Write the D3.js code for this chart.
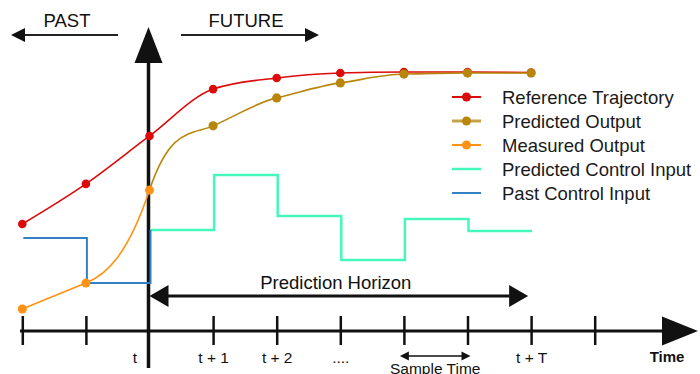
<!DOCTYPE html>
<html><head><meta charset="utf-8">
<script src="https://cdn.jsdelivr.net/npm/d3@7"></script>
<style>
html,body{margin:0;padding:0;background:#fff;}
svg{display:block;font-family:"Liberation Sans",Arial,sans-serif;}
</style></head>
<body><svg id="chart" width="700" height="374"></svg>
<script>
// ---------- data ----------
const timeSteps = [-2, -1, 0, 1, 2, 3, 4, 5, 6, 7];
const tickLabels = ["", "", "t", "t + 1", "t + 2", "....", "", "", "t + T", ""];
const refTimes = [-2, -1, 0, 1, 2, 3, 4, 5, 6];
const refValues = [0.413, 0.568, 0.753, 0.934, 0.977, 0.996, 1.0, 1.0, 0.998];
const measTimes = [-2, -1, 0];
const measValues = [0.085, 0.185, 0.544];
const predTimes = [0, 1, 2, 3, 4, 5, 6];
const predValues = [0.544, 0.792, 0.900, 0.958, 0.992, 0.996, 0.996];
const pastCtrlTimes = [-2, -1, 0];
const pastCtrlValues = [0.359, 0.185, 0.390];
const predCtrlTimes = [0, 1, 2, 3, 4, 5, 6];
const predCtrlValues = [0.390, 0.602, 0.444, 0.274, 0.432, 0.386, 0.386];
const legendLabels = ["Reference Trajectory", "Predicted Output", "Measured Output", "Predicted Control Input", "Past Control Input"];
const horizonStart = 0, horizonEnd = 6;
const sampleStart = 4, sampleEnd = 5;

// ---------- styles ----------
const C = {ref:"#dc0a0a", pred:"#b8860b", meas:"#ff9214", pctrl:"#45f7bb", past:"#3380c4", ink:"#111"};
const FONT = 18.5;

const svg = d3.select("#chart");
const x = d3.scaleLinear().domain([-2, 7]).range([22.3, 594.7]);
const y = d3.scaleLinear().domain([0, 1]).range([331, 72]);
const axisY = y(0);

// ---------- time axis ----------
const axisG = svg.append("g").attr("transform", `translate(0,${axisY})`)
  .call(d3.axisBottom(x).tickValues(timeSteps).tickSize(0).tickFormat((d,i)=>tickLabels[i]));
axisG.select(".domain").remove();
axisG.selectAll(".tick text").attr("fill", C.ink).attr("font-size", 15.5)
  .attr("font-family", '"Liberation Sans",Arial,sans-serif')
  .attr("y", 32).attr("dy", 0)
  .attr("dx", d => d === 0 ? -15 : 0);
axisG.selectAll(".tick").append("line")
  .attr("y1", -15).attr("y2", 14).attr("stroke", C.ink).attr("stroke-width", 2.5)
  .filter(d => d === 0).remove();

svg.append("line").attr("x1", 20).attr("x2", 666).attr("y1", axisY).attr("y2", axisY)
  .attr("stroke", C.ink).attr("stroke-width", 3);
svg.append("path").attr("d", `M698,${axisY} L662,${axisY-14.5} L662,${axisY+14.5} Z`).attr("fill", C.ink);
svg.append("text").attr("x", 667).attr("y", 362).attr("text-anchor", "middle")
  .attr("font-size", 15).attr("font-weight", "bold").attr("fill", C.ink).text("Time");

// ---------- vertical axis ----------
const vx = x(0) - 1;
svg.append("line").attr("x1", vx).attr("x2", vx).attr("y1", 368).attr("y2", 60)
  .attr("stroke", C.ink).attr("stroke-width", 3.5);
svg.append("path").attr("d", `M${vx},27 L${vx-14},63 L${vx+14},63 Z`).attr("fill", C.ink);

// ---------- PAST / FUTURE ----------
svg.append("line").attr("x1", 22).attr("x2", 118).attr("y1", 35).attr("y2", 35).attr("stroke", "#222").attr("stroke-width", 2);
svg.append("path").attr("d", "M11,35 L25,28 L25,42 Z").attr("fill", C.ink);
svg.append("line").attr("x1", 181).attr("x2", 308).attr("y1", 35).attr("y2", 35).attr("stroke", "#222").attr("stroke-width", 2);
svg.append("path").attr("d", "M319,35 L305,28 L305,42 Z").attr("fill", C.ink);
svg.append("text").attr("x", 67).attr("y", 27).attr("text-anchor", "middle").attr("font-size", FONT).attr("fill", C.ink).text("PAST");
svg.append("text").attr("x", 246).attr("y", 27).attr("text-anchor", "middle").attr("font-size", FONT).attr("fill", C.ink).text("FUTURE");

// ---------- prediction horizon ----------
const hy = 296, hx0 = x(horizonStart), hx1 = x(horizonEnd) - 3;
svg.append("line").attr("x1", hx0 + 10).attr("x2", hx1 - 10).attr("y1", hy).attr("y2", hy).attr("stroke", C.ink).attr("stroke-width", 3);
svg.append("path").attr("d", `M${hx0},${hy} L${hx0+19},${hy-11} L${hx0+19},${hy+11} Z`).attr("fill", C.ink);
svg.append("path").attr("d", `M${hx1},${hy} L${hx1-19},${hy-11} L${hx1-19},${hy+11} Z`).attr("fill", C.ink);
svg.append("text").attr("x", (hx0 + hx1) / 2 - 3).attr("y", 289).attr("text-anchor", "middle").attr("font-size", FONT).attr("fill", C.ink).text("Prediction Horizon");

// ---------- sample time ----------
const sy = 356, sx0 = x(sampleStart) - 4, sx1 = x(sampleEnd) + 3;
svg.append("line").attr("x1", sx0 + 5).attr("x2", sx1 - 5).attr("y1", sy).attr("y2", sy).attr("stroke", C.ink).attr("stroke-width", 1.5);
svg.append("path").attr("d", `M${sx0},${sy} L${sx0+9},${sy-4.5} L${sx0+9},${sy+4.5} Z`).attr("fill", C.ink);
svg.append("path").attr("d", `M${sx1},${sy} L${sx1-9},${sy-4.5} L${sx1-9},${sy+4.5} Z`).attr("fill", C.ink);
svg.append("text").attr("x", (sx0 + sx1) / 2).attr("y", 373.5).attr("text-anchor", "middle").attr("font-size", 15.5).attr("fill", C.ink).text("Sample Time");

// ---------- curve helper (Hermite with shallow-side tangents, steep junction at t) ----------
const junctionSlope = -3;
function hermitePath(pts, mStart, mEnd) {
  const n = pts.length, s = [], m = [];
  for (let i = 0; i < n - 1; i++) s.push((pts[i+1][1] - pts[i][1]) / (pts[i+1][0] - pts[i][0]));
  for (let i = 0; i < n; i++) {
    if (i === 0) m.push(mStart != null ? mStart : s[0]);
    else if (i === n - 1) m.push(mEnd != null ? mEnd : s[n-2]);
    else m.push(Math.sign(s[i-1]) === Math.sign(s[i]) ? Math.sign(s[i]) * Math.min(Math.abs(s[i-1]), Math.abs(s[i])) : 0);
  }
  const p = d3.path();
  p.moveTo(pts[0][0], pts[0][1]);
  for (let i = 0; i < n - 1; i++) {
    const h = (pts[i+1][0] - pts[i][0]) / 3;
    p.bezierCurveTo(pts[i][0] + h, pts[i][1] + m[i]*h, pts[i+1][0] - h, pts[i+1][1] - m[i+1]*h, pts[i+1][0], pts[i+1][1]);
  }
  return p.toString();
}

// ---------- control inputs ----------
const step = d3.line().x(d => x(d[0]) + 1).y(d => y(d[1])).curve(d3.curveStepAfter);
svg.append("path").attr("d", step(predCtrlTimes.map((t,i)=>[t, predCtrlValues[i]])))
  .attr("fill", "none").attr("stroke", C.pctrl).attr("stroke-width", 2.5);
svg.append("path").attr("d", step(pastCtrlTimes.map((t,i)=>[t, pastCtrlValues[i]])))
  .attr("fill", "none").attr("stroke", C.past).attr("stroke-width", 2);

// ---------- reference trajectory ----------
const refPts = refTimes.map((t,i)=>[t, refValues[i]]);
svg.append("path").attr("d", d3.line().x(d=>x(d[0])).y(d=>y(d[1])).curve(d3.curveMonotoneX)(refPts))
  .attr("fill", "none").attr("stroke", C.ref).attr("stroke-width", 1.6);
svg.selectAll(".refdot").data(refPts).join("circle").attr("cx", d=>x(d[0])).attr("cy", d=>y(d[1]))
  .attr("r", 4.3).attr("fill", C.ref);

// ---------- measured output ----------
const measPx = measTimes.map((t,i)=>[x(t), y(measValues[i])]);
svg.append("path").attr("d", hermitePath(measPx, null, junctionSlope))
  .attr("fill", "none").attr("stroke", C.meas).attr("stroke-width", 1.6);

// ---------- predicted output ----------
const predPx = predTimes.map((t,i)=>[x(t), y(predValues[i])]);
svg.append("path").attr("d", hermitePath(predPx, junctionSlope, 0))
  .attr("fill", "none").attr("stroke", C.pred).attr("stroke-width", 1.6);
svg.selectAll(".preddot").data(predPx.slice(1)).join("circle").attr("cx", d=>d[0]).attr("cy", d=>d[1])
  .attr("r", 4.6).attr("fill", C.pred);
svg.selectAll(".measdot").data(measPx).join("circle").attr("cx", d=>d[0]).attr("cy", d=>d[1])
  .attr("r", 4.5).attr("fill", C.meas);

// ---------- legend ----------
const legColors = [C.ref, "#c6a04a", C.meas, C.pctrl, C.past];
const legDotColors = [C.ref, C.pred, C.meas, null, null];
const legWidths = [2, 3, 2, 2.5, 2];
const lg = svg.append("g");
legendLabels.forEach((lab, i) => {
  const ry = 97 + i * 24;
  lg.append("line").attr("x1", 452).attr("x2", 481).attr("y1", ry).attr("y2", ry)
    .attr("stroke", legColors[i]).attr("stroke-width", legWidths[i]);
  if (legDotColors[i]) lg.append("circle").attr("cx", 466.5).attr("cy", ry).attr("r", 4.5).attr("fill", legDotColors[i]);
  lg.append("text").attr("x", 502).attr("y", ry + 6.5).attr("font-size", FONT).attr("fill", "#1a1a1a").text(lab);
});
</script></body></html>
